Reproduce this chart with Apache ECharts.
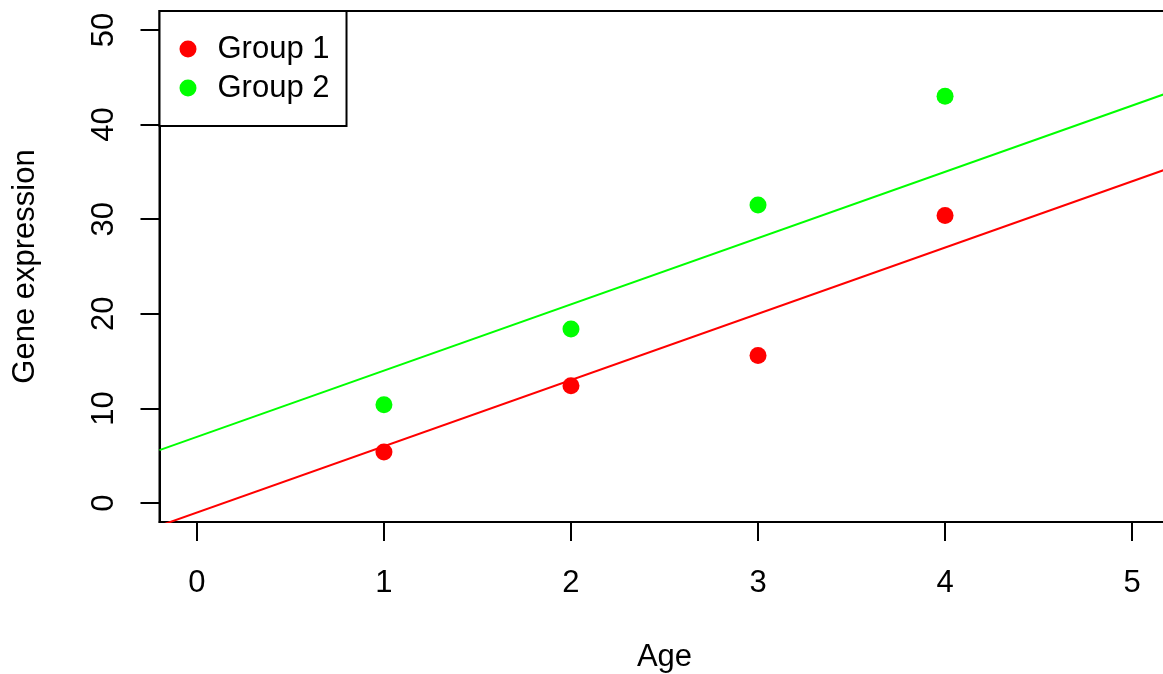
<!DOCTYPE html>
<html>
<head>
<meta charset="utf-8">
<script src="https://cdn.jsdelivr.net/npm/echarts@6/dist/echarts.min.js"></script>
<style>
html,body{margin:0;padding:0;background:#fff;}
#chart{width:1163px;height:674px;}
</style>
</head>
<body>
<div id="chart"></div>
<script>
const groupNames = ['Group 1', 'Group 2'];
const groupColors = ['#FF0000', '#00FF00'];
const ages = [1, 2, 3, 4];
const group1Expr = [5.4, 12.4, 15.6, 30.4];
const group2Expr = [10.4, 18.4, 31.5, 43.0];
const fitIntercepts = [-1.0, 7.0];
const fitSlopes = [7.0, 7.0];
const xTicks = [0, 1, 2, 3, 4, 5];
const yTicks = [0, 10, 20, 30, 40, 50];
const xRange = [-0.2, 5.2];
const yRange = [-2, 52];

const FONT = '"Liberation Sans", Arial, Helvetica, sans-serif';
const FS = 31;
const groupValues = [group1Expr, group2Expr];

const series = [];
groupNames.forEach((name, i) => {
  series.push({
    name: name,
    type: 'scatter',
    symbol: 'circle',
    symbolSize: 17,
    itemStyle: { color: groupColors[i], opacity: 1 },
    data: ages.map((a, k) => [a, groupValues[i][k]]),
    z: 3
  });
});
groupNames.forEach((name, i) => {
  const a = fitIntercepts[i], b = fitSlopes[i];
  series.push({
    name: 'fit ' + name,
    type: 'line',
    showSymbol: false,
    symbol: 'none',
    silent: true,
    clip: true,
    lineStyle: { color: groupColors[i], width: 2 },
    data: xRange.map(x => [x, a + b * x]),
    z: 4
  });
});

const chart = echarts.init(document.getElementById('chart'), null, { renderer: 'canvas' });
chart.setOption({
  animation: false,
  backgroundColor: '#fff',
  textStyle: { fontFamily: FONT, color: '#000' },
  grid: {
    left: 159.5, top: 11, width: 1010, height: 511,
    outerBoundsMode: 'none',
    containLabel: false,
    show: true, borderColor: '#000', borderWidth: 2, backgroundColor: 'transparent'
  },
  legend: {
    data: groupNames,
    orient: 'vertical',
    left: 159.5, top: 11,
    padding: [22.5, 17, 22.5, 20],
    itemGap: 8,
    itemWidth: 17, itemHeight: 17,
    icon: 'circle',
    borderColor: '#000', borderWidth: 2,
    backgroundColor: '#fff',
    textStyle: { fontFamily: FONT, fontSize: FS, lineHeight: FS, color: '#000', padding: [0, 0, 0, 16] }
  },
  xAxis: {
    type: 'value',
    min: xRange[0], max: xRange[1],
    name: 'Age',
    nameLocation: 'middle',
    nameGap: 120,
    nameTextStyle: { fontFamily: FONT, fontSize: FS, lineHeight: FS, color: '#000' },
    axisLine: { show: true, onZero: false, lineStyle: { color: '#000', width: 2 } },
    axisTick: { show: true, length: 19, inside: false, customValues: xTicks, lineStyle: { color: '#000', width: 2 } },
    axisLabel: { customValues: xTicks, margin: 46, fontFamily: FONT, fontSize: FS, lineHeight: FS, color: '#000' },
    splitLine: { show: false }
  },
  yAxis: {
    type: 'value',
    min: yRange[0], max: yRange[1],
    name: 'Gene expression',
    nameLocation: 'middle',
    nameGap: 119,
    nameRotate: 90,
    nameTextStyle: { fontFamily: FONT, fontSize: FS, lineHeight: FS, color: '#000' },
    axisLine: { show: true, onZero: false, lineStyle: { color: '#000', width: 2 } },
    axisTick: { show: true, length: 19, inside: false, customValues: yTicks, lineStyle: { color: '#000', width: 2 } },
    axisLabel: { customValues: yTicks, rotate: 90, margin: 40, fontFamily: FONT, fontSize: FS, lineHeight: FS, color: '#000' },
    splitLine: { show: false }
  },
  series: series
});
</script>
</body>
</html>
